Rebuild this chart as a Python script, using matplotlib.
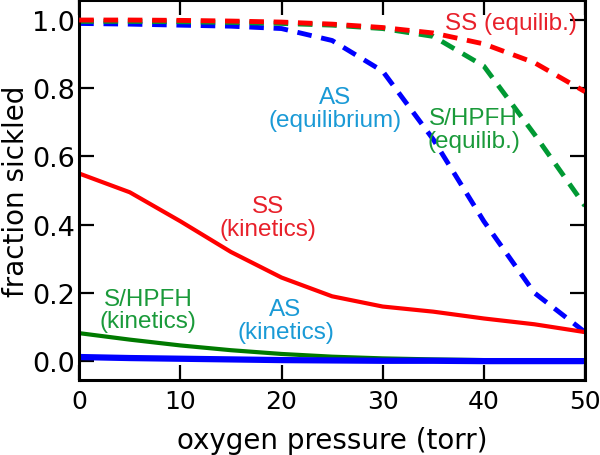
import matplotlib
matplotlib.use("Agg")
import matplotlib.pyplot as plt

# ---------------------------------------------------
# Data
# ---------------------------------------------------
pressure = [0, 5, 10, 15, 20, 25, 30, 35, 40, 45, 50]

ss_equil = [1.0, 1.0, 0.999, 0.997, 0.994, 0.988, 0.978, 0.962, 0.93, 0.875, 0.79]
shpfh_equil = [0.996, 0.996, 0.995, 0.993, 0.99, 0.985, 0.975, 0.952, 0.865, 0.665, 0.455]
as_equil = [0.99, 0.988, 0.985, 0.982, 0.975, 0.94, 0.85, 0.65, 0.41, 0.2, 0.085]

ss_kin = [0.55, 0.495, 0.41, 0.32, 0.245, 0.19, 0.16, 0.145, 0.125, 0.108, 0.085]
shpfh_kin = [0.082, 0.063, 0.046, 0.032, 0.021, 0.013, 0.008, 0.005, 0.003, 0.002, 0.002]
as_kin = [0.012, 0.009, 0.007, 0.005, 0.003, 0.002, 0.001, 0.001, 0.0, 0.0, 0.0]

RED = "#ff0000"
GREEN_D = "#009933"
GREEN_S = "#007a00"
BLUE = "#0000ff"
LBL_RED = "#e8202a"
LBL_GREEN = "#1a9a3a"
LBL_BLUE = "#1a9ad6"

plt.rcParams["font.size"] = 18

fig = plt.figure(figsize=(6, 4.56), dpi=100)
ax = fig.add_axes([0.132, 0.164, 0.843, 0.834])

dash = (3, 2)
ax.plot(pressure, ss_equil, color=RED, lw=3.5, dashes=dash, zorder=3)
ax.plot(pressure, shpfh_equil, color=GREEN_D, lw=3.5, dashes=dash, zorder=2)
ax.plot(pressure, as_equil, color=BLUE, lw=3.5, dashes=dash, zorder=1)

ax.plot(pressure, ss_kin, color=RED, lw=3)
ax.plot(pressure, shpfh_kin, color=GREEN_S, lw=3)
ax.plot(pressure, as_kin, color=BLUE, lw=4.5)

txt = dict(family="Liberation Sans", fontsize=17.5, ha="center", va="center",
           linespacing=1.05)
ax.text(42.7, 0.99, "SS (equilib.)", color=LBL_RED, **txt)
ax.text(25.3, 0.74, "AS\n(equilibrium)", color=LBL_BLUE, **txt)
ax.text(39.0, 0.68, "S/HPFH\n(equilib.)", color=LBL_GREEN, **txt)
ax.text(18.7, 0.42, "SS\n(kinetics)", color=LBL_RED, **txt)
ax.text(6.8, 0.15, "S/HPFH\n(kinetics)", color=LBL_GREEN, **txt)
ax.text(20.4, 0.12, "AS\n(kinetics)", color=LBL_BLUE, **txt)

ax.set_xlim(0, 50)
ax.set_ylim(-0.056, 1.059)
ax.set_xticks([0, 10, 20, 30, 40, 50])
ax.set_yticks([0.0, 0.2, 0.4, 0.6, 0.8, 1.0])
ax.tick_params(direction="in", length=11, width=1.6, top=True, right=True, pad=6)
ax.tick_params(axis="y", labelsize=19.5, pad=3)
for s in ax.spines.values():
    s.set_linewidth(2.2)

ax.set_xlabel("oxygen pressure (torr)", fontsize=20)
ax.set_ylabel("fraction sickled", fontsize=20)
ax.xaxis.set_label_coords(0.5, -0.12)
ax.yaxis.set_label_coords(-0.097, 0.5)

fig.savefig("out.png", dpi=100)
